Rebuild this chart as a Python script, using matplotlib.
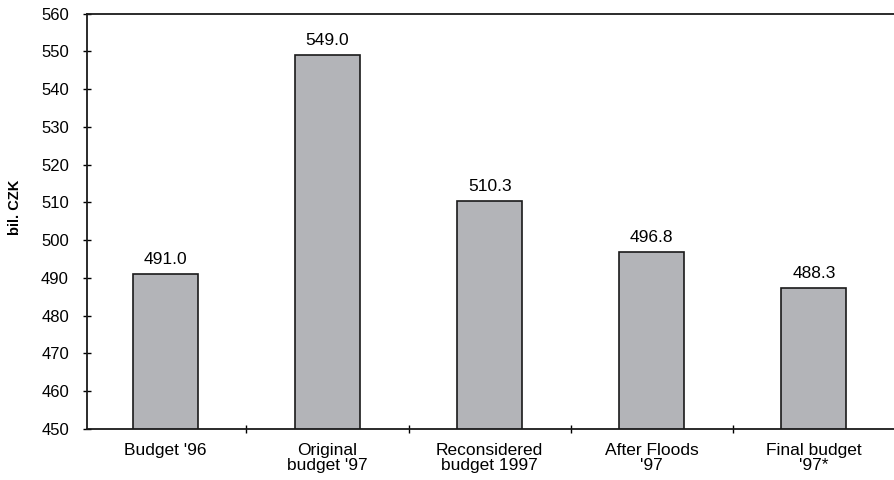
import numpy as np
import matplotlib.pyplot as plt

plt.rcParams['font.family'] = ['Liberation Sans', 'DejaVu Sans']

# Data
categories = ["Budget '96", "Original\nbudget '97", "Reconsidered\nbudget 1997",
              "After Floods\n'97", "Final budget\n'97*"]
values = [491.0, 549.0, 510.3, 496.8, 487.3]
value_labels = ["491.0", "549.0", "510.3", "496.8", "488.3"]

fig = plt.figure(figsize=(8.95, 4.8), dpi=100)
ax = fig.add_axes([87 / 895, 1 - 429 / 480, 1 - 87 / 895, (429 - 13.5) / 480])

x = np.arange(len(categories))
bars = ax.bar(x, values, width=0.4, color='#b3b4b8',
              edgecolor='#1a1a1a', linewidth=1.2, zorder=2)

for xi, v, lab in zip(x, values, value_labels):
    ax.annotate(lab, (xi, v), xytext=(0, 5), textcoords='offset points',
                ha='center', va='bottom', fontsize=12.5)

ax.set_ylim(450, 560)
ax.set_xlim(-0.483, 4.489)
ax.set_yticks(np.arange(450, 561, 10))
ax.tick_params(axis='y', direction='inout', length=6, width=1, labelsize=12, pad=10)

# category labels at centers, ticks between categories
ax.set_xticks(x + 0.5)
ax.set_xticklabels([])
ax.set_xticks(x, minor=True)
ax.set_xticklabels(categories, minor=True, fontsize=12.5, linespacing=1.0)
ax.tick_params(axis='x', which='major', direction='inout', length=6, width=1)
ax.tick_params(axis='x', which='minor', length=0, pad=10)

fig.text(15 / 895, 1 - 207.5 / 480, 'bil. CZK', rotation=90, ha='center',
         va='center', fontsize=10.5, fontweight='bold')

ax.spines['right'].set_visible(False)
for s in ['left', 'top', 'bottom']:
    ax.spines[s].set_linewidth(1.3)
    ax.spines[s].set_color('#1a1a1a')

fig.savefig('out.png', dpi=100)
